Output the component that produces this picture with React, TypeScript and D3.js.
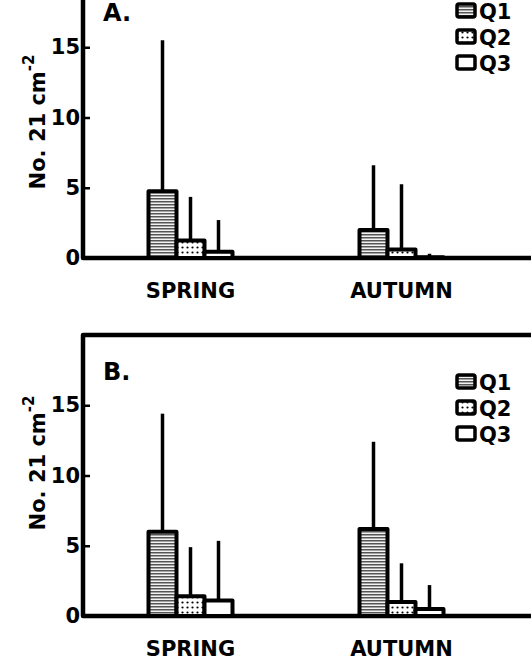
import React, { useEffect, useRef } from "react";
import * as d3 from "d3";

const seasons = ["SPRING", "AUTUMN"];
const quarters = ["Q1", "Q2", "Q3"];
const yTicks = [0, 5, 10, 15];

// means and top of the error bar, one row per season, columns Q1..Q3
const meanA = [[4.75, 1.25, 0.45], [2.0, 0.6, 0.05]];
const upperA = [[15.5, 4.35, 2.7], [6.6, 5.25, 0.3]];
const meanB = [[6.0, 1.4, 1.1], [6.2, 1.0, 0.5]];
const upperB = [[14.4, 4.9, 5.35], [12.4, 3.75, 2.2]];

const FONT = "'DejaVu Sans', sans-serif";

const App = () => {
  const chartRef = useRef<SVGSVGElement>(null);

  useEffect(() => {
    drawChart();
  }, []);

  const drawPanel = (svg: any, p: any) => {
    const y = d3.scaleLinear().domain([0, 20]).range([p.base, p.top]);
    const x = d3.scaleBand().domain(seasons).range([85, 507]);
    const xq = d3.scaleBand().domain(quarters).range([0, 84]);
    const offset = (x.bandwidth() - 84) / 2;
    const fills = ["url(#hatch)", "url(#dots)", "white"];

    const g = svg.append("g");

    // frame: left axis, baseline and top rule
    g.append("path")
      .attr("d", `M 560,${p.base} H 83 V ${p.top} H 560`)
      .attr("fill", "none")
      .attr("stroke", "black")
      .attr("stroke-width", 4.5)
      .attr("stroke-linejoin", "round");

    const axis = g.append("g")
      .attr("transform", "translate(83,0)")
      .call(d3.axisLeft(y).tickValues(yTicks).tickSizeInner(-7).tickSizeOuter(0).tickPadding(3));
    axis.select(".domain").remove();
    axis.selectAll("line").attr("stroke-width", 2.5);
    axis.selectAll("text")
      .style("font-family", FONT)
      .style("font-weight", "bold")
      .style("font-size", "21px")
      .attr("fill", "black");

    // y label
    const yl = g.append("text")
      .attr("transform", `translate(45,${p.yLabelMid}) rotate(-90)`)
      .attr("text-anchor", "middle")
      .style("font-family", FONT)
      .style("font-weight", "bold")
      .style("font-size", "21px");
    yl.append("tspan").text("No. 21 cm");
    yl.append("tspan").attr("dy", -11).style("font-size", "15px").text("-2");

    g.append("text")
      .attr("x", 103)
      .attr("y", p.top + p.labelDy)
      .style("font-family", FONT)
      .style("font-weight", "bold")
      .style("font-size", "24px")
      .text(p.label);

    seasons.forEach((s, i) => {
      g.append("text")
        .attr("x", x(s)! + x.bandwidth() / 2)
        .attr("y", p.base + 40)
        .attr("text-anchor", "middle")
        .style("font-family", FONT)
        .style("font-weight", "bold")
        .style("font-size", "21px")
        .text(s);

      quarters.forEach((q, j) => {
        const bx = x(s)! + offset + xq(q)!;
        g.append("line")
          .attr("x1", bx + xq.bandwidth() / 2)
          .attr("x2", bx + xq.bandwidth() / 2)
          .attr("y1", y(p.mean[i][j]))
          .attr("y2", y(p.upper[i][j]))
          .attr("stroke", "black")
          .attr("stroke-width", 3.5);
      });

      quarters.forEach((q, j) => {
        const bx = x(s)! + offset + xq(q)!;
        g.append("rect")
          .attr("x", bx)
          .attr("y", y(p.mean[i][j]))
          .attr("width", xq.bandwidth())
          .attr("height", p.base - y(p.mean[i][j]))
          .attr("fill", fills[j])
          .attr("stroke", "black")
          .attr("stroke-width", 4)
          .attr("stroke-linejoin", "round");
      });
    });

    // legend
    quarters.forEach((q, j) => {
      const ly = p.top + p.legendDy + j * 26;
      g.append("rect")
        .attr("x", 457)
        .attr("y", ly - 7)
        .attr("width", 18)
        .attr("height", 13)
        .attr("rx", 2)
        .attr("fill", fills[j])
        .attr("stroke", "black")
        .attr("stroke-width", 3.5);
      g.append("text")
        .attr("x", 479)
        .attr("y", ly + 7.5)
        .style("font-family", FONT)
        .style("font-weight", "bold")
        .style("font-size", "21px")
        .text(q);
    });
  };

  const drawChart = () => {
    d3.select(chartRef.current).selectAll("*").remove();
    const svg = d3.select(chartRef.current);

    const defs = svg.append("defs");
    const hatch = defs.append("pattern")
      .attr("id", "hatch")
      .attr("patternUnits", "userSpaceOnUse")
      .attr("width", 8)
      .attr("height", 3);
    hatch.append("rect").attr("width", 8).attr("height", 3).attr("fill", "#f2f2f2");
    hatch.append("rect").attr("y", 0).attr("width", 8).attr("height", 1.5).attr("fill", "#555");

    const dots = defs.append("pattern")
      .attr("id", "dots")
      .attr("patternUnits", "userSpaceOnUse")
      .attr("width", 5)
      .attr("height", 5);
    dots.append("rect").attr("width", 5).attr("height", 5).attr("fill", "white");
    dots.append("circle").attr("cx", 2.5).attr("cy", 2.5).attr("r", 1.1).attr("fill", "black");

    drawPanel(svg, { mean: meanA, upper: upperA, label: "A.", base: 258, top: -23, legendDy: 34, labelDy: 44, yLabelMid: 122 });
    drawPanel(svg, { mean: meanB, upper: upperB, label: "B.", base: 616, top: 335, legendDy: 47, labelDy: 45, yLabelMid: 463 });
  };

  return (
    <div style={{ position: "absolute", left: 0, top: 0 }}>
      <svg ref={chartRef} width={531} height={660} style={{ display: "block", background: "white" }} />
    </div>
  );
};

export default App;
